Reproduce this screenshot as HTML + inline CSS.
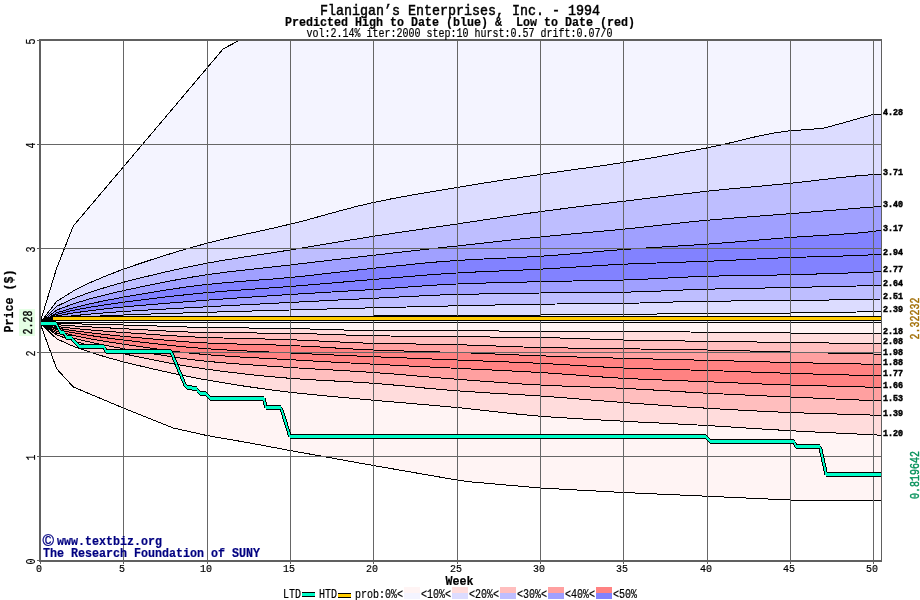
<!DOCTYPE html>
<html><head><meta charset="utf-8"><title>Flanigan's Enterprises, Inc. - 1994</title>
<style>html,body{margin:0;padding:0;background:#fff;}svg{display:block;}</style></head>
<body>
<svg width="920" height="600" viewBox="0 0 920 600">
<rect width="920" height="600" fill="#fff"/>
<defs><clipPath id="cp"><rect x="40" y="40" width="842" height="521"/></clipPath></defs>
<g clip-path="url(#cp)" shape-rendering="crispEdges">
<polygon points="40.0,322.9 56.7,268.0 73.3,226.0 123.3,167.0 223.3,48.8 240.0,40.0 882.7,40.0 882.0,114.5 881.0,114.5 873.3,114.5 856.6,119.0 840.0,123.8 823.3,128.2 806.6,129.6 790.0,130.8 773.3,133.1 756.6,136.5 740.0,140.5 723.3,144.5 706.6,148.0 690.0,151.1 673.3,154.1 656.6,157.0 640.0,159.8 623.3,162.5 606.6,165.0 590.0,167.4 573.3,169.7 556.6,172.1 540.0,174.5 523.3,177.0 506.6,179.5 490.0,182.1 473.3,184.8 456.7,187.5 440.0,190.3 423.3,193.1 406.7,196.0 390.0,199.1 373.3,202.5 356.7,206.4 340.0,210.8 323.3,215.4 306.7,220.0 290.0,224.2 273.3,228.1 256.7,231.8 240.0,235.4 223.3,239.2 206.7,243.3 190.0,247.9 173.3,252.8 156.7,258.0 140.0,263.5 123.3,269.2 106.7,275.6 90.0,282.7 73.3,291.0 56.7,301.4 40.0,322.9" fill="#f4f4ff"/>
<polygon points="40.0,322.9 56.7,301.4 73.3,291.0 90.0,282.7 106.7,275.6 123.3,269.2 140.0,263.5 156.7,258.0 173.3,252.8 190.0,247.9 206.7,243.3 223.3,239.2 240.0,235.4 256.7,231.8 273.3,228.1 290.0,224.2 306.7,220.0 323.3,215.4 340.0,210.8 356.7,206.4 373.3,202.5 390.0,199.1 406.7,196.0 423.3,193.1 440.0,190.3 456.7,187.5 473.3,184.8 490.0,182.1 506.6,179.5 523.3,177.0 540.0,174.5 556.6,172.1 573.3,169.7 590.0,167.4 606.6,165.0 623.3,162.5 640.0,159.8 656.6,157.0 673.3,154.1 690.0,151.1 706.6,148.0 723.3,144.5 740.0,140.5 756.6,136.5 773.3,133.1 790.0,130.8 806.6,129.6 823.3,128.2 840.0,123.8 856.6,119.0 873.3,114.5 881.0,114.5 882.0,114.5 882.0,174.2 881.0,174.2 873.3,174.6 856.6,175.9 840.0,177.6 823.3,179.5 806.6,181.5 790.0,183.3 773.3,184.9 756.6,186.5 740.0,188.0 723.3,189.6 706.6,191.3 690.0,193.2 673.3,195.1 656.6,197.2 640.0,199.2 623.3,201.3 606.6,203.3 590.0,205.3 573.3,207.4 556.6,209.5 540.0,211.7 523.3,214.0 506.6,216.5 490.0,219.0 473.3,221.5 456.7,224.0 440.0,226.4 423.3,228.9 406.7,231.3 390.0,233.8 373.3,236.3 356.7,239.0 340.0,241.7 323.3,244.5 306.7,247.3 290.0,250.0 273.3,252.6 256.7,255.1 240.0,257.7 223.3,260.3 206.7,263.3 190.0,266.6 173.3,270.2 156.7,274.0 140.0,278.1 123.3,282.3 106.7,287.0 90.0,292.3 73.3,298.5 56.7,306.3 40.0,322.9" fill="#dcdcff"/>
<polygon points="40.0,322.9 56.7,306.3 73.3,298.5 90.0,292.3 106.7,287.0 123.3,282.3 140.0,278.1 156.7,274.0 173.3,270.2 190.0,266.6 206.7,263.3 223.3,260.3 240.0,257.7 256.7,255.1 273.3,252.6 290.0,250.0 306.7,247.3 323.3,244.5 340.0,241.7 356.7,239.0 373.3,236.3 390.0,233.8 406.7,231.3 423.3,228.9 440.0,226.4 456.7,224.0 473.3,221.5 490.0,219.0 506.6,216.5 523.3,214.0 540.0,211.7 556.6,209.5 573.3,207.4 590.0,205.3 606.6,203.3 623.3,201.3 640.0,199.2 656.6,197.2 673.3,195.1 690.0,193.2 706.6,191.3 723.3,189.6 740.0,188.0 756.6,186.5 773.3,184.9 790.0,183.3 806.6,181.5 823.3,179.5 840.0,177.6 856.6,175.9 873.3,174.6 881.0,174.2 882.0,174.2 882.0,206.4 881.0,206.4 873.3,207.0 856.6,208.3 840.0,209.7 823.3,211.0 806.6,212.4 790.0,213.7 773.3,215.0 756.6,216.3 740.0,217.5 723.3,218.9 706.6,220.3 690.0,221.9 673.3,223.7 656.6,225.6 640.0,227.5 623.3,229.2 606.6,230.8 590.0,232.3 573.3,233.8 556.6,235.4 540.0,237.0 523.3,238.7 506.6,240.5 490.0,242.3 473.3,244.2 456.7,246.0 440.0,247.8 423.3,249.7 406.7,251.5 390.0,253.4 373.3,255.3 356.7,257.2 340.0,259.1 323.3,261.1 306.7,263.0 290.0,265.0 273.3,266.9 256.7,268.7 240.0,270.5 223.3,272.5 206.7,274.8 190.0,277.4 173.3,280.4 156.7,283.6 140.0,287.1 123.3,290.6 106.7,294.5 90.0,298.8 73.3,303.8 56.7,310.1 40.0,322.9" fill="#bebeff"/>
<polygon points="40.0,322.9 56.7,310.1 73.3,303.8 90.0,298.8 106.7,294.5 123.3,290.6 140.0,287.1 156.7,283.6 173.3,280.4 190.0,277.4 206.7,274.8 223.3,272.5 240.0,270.5 256.7,268.7 273.3,266.9 290.0,265.0 306.7,263.0 323.3,261.1 340.0,259.1 356.7,257.2 373.3,255.3 390.0,253.4 406.7,251.5 423.3,249.7 440.0,247.8 456.7,246.0 473.3,244.2 490.0,242.3 506.6,240.5 523.3,238.7 540.0,237.0 556.6,235.4 573.3,233.8 590.0,232.3 606.6,230.8 623.3,229.2 640.0,227.5 656.6,225.6 673.3,223.7 690.0,221.9 706.6,220.3 723.3,218.9 740.0,217.5 756.6,216.3 773.3,215.0 790.0,213.7 806.6,212.4 823.3,211.0 840.0,209.7 856.6,208.3 873.3,207.0 881.0,206.4 882.0,206.4 882.0,230.3 881.0,230.3 873.3,231.5 856.6,233.1 840.0,234.3 823.3,235.4 806.6,236.4 790.0,237.5 773.3,238.8 756.6,240.2 740.0,241.6 723.3,242.9 706.6,244.2 690.0,245.3 673.3,246.3 656.6,247.3 640.0,248.4 623.3,249.5 606.6,250.8 590.0,252.3 573.3,253.7 556.6,255.1 540.0,256.3 523.3,257.2 506.6,258.0 490.0,258.7 473.3,259.5 456.7,260.5 440.0,261.7 423.3,263.2 406.7,264.9 390.0,266.6 373.3,268.3 356.7,270.1 340.0,272.0 323.3,273.9 306.7,275.8 290.0,277.5 273.3,279.0 256.7,280.2 240.0,281.5 223.3,282.9 206.7,284.5 190.0,286.5 173.3,288.9 156.7,291.5 140.0,294.3 123.3,297.2 106.7,300.3 90.0,303.8 73.3,307.8 56.7,312.8 40.0,322.9" fill="#a0a0ff"/>
<polygon points="40.0,322.9 56.7,312.8 73.3,307.8 90.0,303.8 106.7,300.3 123.3,297.2 140.0,294.3 156.7,291.5 173.3,288.9 190.0,286.5 206.7,284.5 223.3,282.9 240.0,281.5 256.7,280.2 273.3,279.0 290.0,277.5 306.7,275.8 323.3,273.9 340.0,272.0 356.7,270.1 373.3,268.3 390.0,266.6 406.7,264.9 423.3,263.2 440.0,261.7 456.7,260.5 473.3,259.5 490.0,258.7 506.6,258.0 523.3,257.2 540.0,256.3 556.6,255.1 573.3,253.7 590.0,252.3 606.6,250.8 623.3,249.5 640.0,248.4 656.6,247.3 673.3,246.3 690.0,245.3 706.6,244.2 723.3,242.9 740.0,241.6 756.6,240.2 773.3,238.8 790.0,237.5 806.6,236.4 823.3,235.4 840.0,234.3 856.6,233.1 873.3,231.5 881.0,230.3 882.0,230.3 882.0,254.2 881.0,254.2 873.3,254.8 856.6,255.5 840.0,256.1 823.3,256.5 806.6,257.0 790.0,257.5 773.3,258.2 756.6,259.0 740.0,259.8 723.3,260.6 706.6,261.3 690.0,261.9 673.3,262.4 656.6,263.0 640.0,263.5 623.3,264.2 606.6,265.1 590.0,266.1 573.3,267.2 556.6,268.2 540.0,269.2 523.3,270.0 506.6,270.7 490.0,271.4 473.3,272.1 456.7,273.0 440.0,274.1 423.3,275.3 406.7,276.7 390.0,278.1 373.3,279.5 356.7,280.9 340.0,282.3 323.3,283.7 306.7,285.1 290.0,286.5 273.3,287.7 256.7,288.9 240.0,290.1 223.3,291.3 206.7,292.7 190.0,294.3 173.3,296.1 156.7,298.0 140.0,300.1 123.3,302.2 106.7,304.6 90.0,307.2 73.3,310.3 56.7,314.3 40.0,322.9" fill="#8282ff"/>
<polygon points="40.0,322.9 56.7,314.3 73.3,310.3 90.0,307.2 106.7,304.6 123.3,302.2 140.0,300.1 156.7,298.0 173.3,296.1 190.0,294.3 206.7,292.7 223.3,291.3 240.0,290.1 256.7,288.9 273.3,287.7 290.0,286.5 306.7,285.1 323.3,283.7 340.0,282.3 356.7,280.9 373.3,279.5 390.0,278.1 406.7,276.7 423.3,275.3 440.0,274.1 456.7,273.0 473.3,272.1 490.0,271.4 506.6,270.7 523.3,270.0 540.0,269.2 556.6,268.2 573.3,267.2 590.0,266.1 606.6,265.1 623.3,264.2 640.0,263.5 656.6,263.0 673.3,262.4 690.0,261.9 706.6,261.3 723.3,260.6 740.0,259.8 756.6,259.0 773.3,258.2 790.0,257.5 806.6,257.0 823.3,256.5 840.0,256.1 856.6,255.5 873.3,254.8 881.0,254.2 882.0,254.2 882.0,271.5 881.0,271.5 873.3,272.0 856.6,272.7 840.0,273.3 823.3,273.8 806.6,274.3 790.0,274.7 773.3,275.1 756.6,275.3 740.0,275.6 723.3,275.9 706.6,276.3 690.0,276.9 673.3,277.7 656.6,278.6 640.0,279.4 623.3,280.0 606.6,280.4 590.0,280.7 573.3,281.0 556.6,281.3 540.0,281.7 523.3,282.1 506.6,282.5 490.0,282.9 473.3,283.4 456.7,284.0 440.0,284.8 423.3,285.9 406.7,287.1 390.0,288.4 373.3,289.5 356.7,290.5 340.0,291.5 323.3,292.5 306.7,293.5 290.0,294.5 273.3,295.6 256.7,296.7 240.0,297.8 223.3,299.0 206.7,300.2 190.0,301.5 173.3,302.7 156.7,304.1 140.0,305.5 123.3,307.0 106.7,308.7 90.0,310.7 73.3,313.0 56.7,315.9 40.0,322.9" fill="#8282ff"/>
<polygon points="40.0,322.9 56.7,315.9 73.3,313.0 90.0,310.7 106.7,308.7 123.3,307.0 140.0,305.5 156.7,304.1 173.3,302.7 190.0,301.5 206.7,300.2 223.3,299.0 240.0,297.8 256.7,296.7 273.3,295.6 290.0,294.5 306.7,293.5 323.3,292.5 340.0,291.5 356.7,290.5 373.3,289.5 390.0,288.4 406.7,287.1 423.3,285.9 440.0,284.8 456.7,284.0 473.3,283.4 490.0,282.9 506.6,282.5 523.3,282.1 540.0,281.7 556.6,281.3 573.3,281.0 590.0,280.7 606.6,280.4 623.3,280.0 640.0,279.4 656.6,278.6 673.3,277.7 690.0,276.9 706.6,276.3 723.3,275.9 740.0,275.6 756.6,275.3 773.3,275.1 790.0,274.7 806.6,274.3 823.3,273.8 840.0,273.3 856.6,272.7 873.3,272.0 881.0,271.5 882.0,271.5 882.0,285.2 881.0,285.2 873.3,285.5 856.6,286.0 840.0,286.4 823.3,286.8 806.6,287.1 790.0,287.5 773.3,287.8 756.6,288.2 740.0,288.5 723.3,288.8 706.6,289.2 690.0,289.7 673.3,290.4 656.6,291.2 640.0,291.8 623.3,292.2 606.6,292.4 590.0,292.6 573.3,292.7 556.6,292.8 540.0,293.0 523.3,293.2 506.6,293.5 490.0,293.8 473.3,294.1 456.7,294.5 440.0,295.0 423.3,295.8 406.7,296.6 390.0,297.5 373.3,298.3 356.7,299.1 340.0,299.9 323.3,300.8 306.7,301.6 290.0,302.5 273.3,303.3 256.7,304.2 240.0,305.0 223.3,305.9 206.7,306.8 190.0,307.7 173.3,308.6 156.7,309.5 140.0,310.5 123.3,311.5 106.7,312.7 90.0,314.1 73.3,315.7 56.7,317.8 40.0,322.9" fill="#a0a0ff"/>
<polygon points="40.0,322.9 56.7,317.8 73.3,315.7 90.0,314.1 106.7,312.7 123.3,311.5 140.0,310.5 156.7,309.5 173.3,308.6 190.0,307.7 206.7,306.8 223.3,305.9 240.0,305.0 256.7,304.2 273.3,303.3 290.0,302.5 306.7,301.6 323.3,300.8 340.0,299.9 356.7,299.1 373.3,298.3 390.0,297.5 406.7,296.6 423.3,295.8 440.0,295.0 456.7,294.5 473.3,294.1 490.0,293.8 506.6,293.5 523.3,293.2 540.0,293.0 556.6,292.8 573.3,292.7 590.0,292.6 606.6,292.4 623.3,292.2 640.0,291.8 656.6,291.2 673.3,290.4 690.0,289.7 706.6,289.2 723.3,288.8 740.0,288.5 756.6,288.2 773.3,287.8 790.0,287.5 806.6,287.1 823.3,286.8 840.0,286.4 856.6,286.0 873.3,285.5 881.0,285.2 882.0,285.2 882.0,299.0 881.0,299.0 873.3,299.2 856.6,299.5 840.0,299.8 823.3,300.1 806.6,300.3 790.0,300.5 773.3,300.7 756.6,300.8 740.0,300.9 723.3,301.1 706.6,301.3 690.0,301.6 673.3,302.0 656.6,302.5 640.0,303.0 623.3,303.3 606.6,303.5 590.0,303.7 573.3,303.8 556.6,304.0 540.0,304.2 523.3,304.5 506.6,304.8 490.0,305.1 473.3,305.4 456.7,305.8 440.0,306.2 423.3,306.6 406.7,307.0 390.0,307.4 373.3,307.8 356.7,308.2 340.0,308.7 323.3,309.1 306.7,309.6 290.0,310.0 273.3,310.4 256.7,310.9 240.0,311.3 223.3,311.8 206.7,312.3 190.0,312.8 173.3,313.3 156.7,313.8 140.0,314.4 123.3,315.0 106.7,315.7 90.0,316.5 73.3,317.5 56.7,318.9 40.0,322.9" fill="#bebeff"/>
<polygon points="40.0,322.9 56.7,318.9 73.3,317.5 90.0,316.5 106.7,315.7 123.3,315.0 140.0,314.4 156.7,313.8 173.3,313.3 190.0,312.8 206.7,312.3 223.3,311.8 240.0,311.3 256.7,310.9 273.3,310.4 290.0,310.0 306.7,309.6 323.3,309.1 340.0,308.7 356.7,308.2 373.3,307.8 390.0,307.4 406.7,307.0 423.3,306.6 440.0,306.2 456.7,305.8 473.3,305.4 490.0,305.1 506.6,304.8 523.3,304.5 540.0,304.2 556.6,304.0 573.3,303.8 590.0,303.7 606.6,303.5 623.3,303.3 640.0,303.0 656.6,302.5 673.3,302.0 690.0,301.6 706.6,301.3 723.3,301.1 740.0,300.9 756.6,300.8 773.3,300.7 790.0,300.5 806.6,300.3 823.3,300.1 840.0,299.8 856.6,299.5 873.3,299.2 881.0,299.0 882.0,299.0 882.0,311.4 881.0,311.4 873.3,311.6 856.6,312.0 840.0,312.3 823.3,312.6 806.6,312.8 790.0,313.0 773.3,313.1 756.6,313.2 740.0,313.3 723.3,313.4 706.6,313.5 690.0,313.6 673.3,313.8 656.6,314.0 640.0,314.1 623.3,314.3 606.6,314.5 590.0,314.6 573.3,314.8 556.6,314.9 540.0,315.0 523.3,315.1 506.6,315.1 490.0,315.2 473.3,315.2 456.7,315.3 440.0,315.4 423.3,315.6 406.7,315.7 390.0,315.9 373.3,316.0 356.7,316.1 340.0,316.2 323.3,316.3 306.7,316.4 290.0,316.5 273.3,316.6 256.7,316.7 240.0,316.8 223.3,316.9 206.7,317.0 190.0,317.2 173.3,317.3 156.7,317.5 140.0,317.8 123.3,318.0 106.7,318.3 90.0,318.6 73.3,319.1 56.7,319.7 40.0,322.9" fill="#dcdcff"/>
<polygon points="40.0,322.9 56.7,319.7 73.3,319.1 90.0,318.6 106.7,318.3 123.3,318.0 140.0,317.8 156.7,317.5 173.3,317.3 190.0,317.2 206.7,317.0 223.3,316.9 240.0,316.8 256.7,316.7 273.3,316.6 290.0,316.5 306.7,316.4 323.3,316.3 340.0,316.2 356.7,316.1 373.3,316.0 390.0,315.9 406.7,315.7 423.3,315.6 440.0,315.4 456.7,315.3 473.3,315.2 490.0,315.2 506.6,315.1 523.3,315.1 540.0,315.0 556.6,314.9 573.3,314.8 590.0,314.6 606.6,314.5 623.3,314.3 640.0,314.1 656.6,314.0 673.3,313.8 690.0,313.6 706.6,313.5 723.3,313.4 740.0,313.3 756.6,313.2 773.3,313.1 790.0,313.0 806.6,312.8 823.3,312.6 840.0,312.3 856.6,312.0 873.3,311.6 881.0,311.4 882.0,311.4 882.0,322.9 40.0,322.9" fill="#f4f4ff"/>
<polygon points="40.0,322.9 882.0,322.9 882.0,333.3 881.0,333.3 873.3,333.3 856.6,333.3 840.0,333.2 823.3,333.2 806.6,333.1 790.0,333.0 773.3,332.9 756.6,332.7 740.0,332.5 723.3,332.4 706.6,332.2 690.0,332.0 673.3,331.8 656.6,331.7 640.0,331.5 623.3,331.5 606.6,331.5 590.0,331.5 573.3,331.5 556.6,331.5 540.0,331.5 523.3,331.4 506.6,331.1 490.0,330.9 473.3,330.6 456.7,330.5 440.0,330.5 423.3,330.5 406.7,330.5 390.0,330.5 373.3,330.5 356.7,330.3 340.0,329.9 323.3,329.4 306.7,328.9 290.0,328.5 273.3,328.3 256.7,328.1 240.0,327.9 223.3,327.7 206.7,327.5 190.0,327.1 173.3,326.6 156.7,326.0 140.0,325.5 123.3,325.0 106.7,324.6 90.0,324.2 73.3,323.8 56.7,323.4 40.0,322.9" fill="#fff4f4"/>
<polygon points="40.0,322.9 56.7,323.4 73.3,323.8 90.0,324.2 106.7,324.6 123.3,325.0 140.0,325.5 156.7,326.0 173.3,326.6 190.0,327.1 206.7,327.5 223.3,327.7 240.0,327.9 256.7,328.1 273.3,328.3 290.0,328.5 306.7,328.9 323.3,329.4 340.0,329.9 356.7,330.3 373.3,330.5 390.0,330.5 406.7,330.5 423.3,330.5 440.0,330.5 456.7,330.5 473.3,330.6 490.0,330.9 506.6,331.1 523.3,331.4 540.0,331.5 556.6,331.5 573.3,331.5 590.0,331.5 606.6,331.5 623.3,331.5 640.0,331.5 656.6,331.7 673.3,331.8 690.0,332.0 706.6,332.2 723.3,332.4 740.0,332.5 756.6,332.7 773.3,332.9 790.0,333.0 806.6,333.1 823.3,333.2 840.0,333.2 856.6,333.3 873.3,333.3 881.0,333.3 882.0,333.3 882.0,343.7 881.0,343.7 873.3,343.6 856.6,343.4 840.0,343.2 823.3,342.9 806.6,342.7 790.0,342.5 773.3,342.3 756.6,342.0 740.0,341.8 723.3,341.5 706.6,341.3 690.0,341.1 673.3,340.8 656.6,340.6 640.0,340.3 623.3,340.0 606.6,339.6 590.0,339.0 573.3,338.4 556.6,337.9 540.0,337.5 523.3,337.3 506.6,337.1 490.0,337.0 473.3,336.9 456.7,336.7 440.0,336.5 423.3,336.4 406.7,336.2 390.0,336.0 373.3,335.8 356.7,335.4 340.0,334.8 323.3,334.2 306.7,333.7 290.0,333.3 273.3,333.1 256.7,333.0 240.0,332.9 223.3,332.7 206.7,332.5 190.0,332.1 173.3,331.4 156.7,330.5 140.0,329.6 123.3,328.7 106.7,327.8 90.0,326.9 73.3,325.9 56.7,324.7 40.0,322.9" fill="#ffdcdc"/>
<polygon points="40.0,322.9 56.7,324.7 73.3,325.9 90.0,326.9 106.7,327.8 123.3,328.7 140.0,329.6 156.7,330.5 173.3,331.4 190.0,332.1 206.7,332.5 223.3,332.7 240.0,332.9 256.7,333.0 273.3,333.1 290.0,333.3 306.7,333.7 323.3,334.2 340.0,334.8 356.7,335.4 373.3,335.8 390.0,336.0 406.7,336.2 423.3,336.4 440.0,336.5 456.7,336.7 473.3,336.9 490.0,337.0 506.6,337.1 523.3,337.3 540.0,337.5 556.6,337.9 573.3,338.4 590.0,339.0 606.6,339.6 623.3,340.0 640.0,340.3 656.6,340.6 673.3,340.8 690.0,341.1 706.6,341.3 723.3,341.5 740.0,341.8 756.6,342.0 773.3,342.3 790.0,342.5 806.6,342.7 823.3,342.9 840.0,343.2 856.6,343.4 873.3,343.6 881.0,343.7 882.0,343.7 882.0,354.1 881.0,354.1 873.3,354.0 856.6,353.7 840.0,353.3 823.3,352.9 806.6,352.4 790.0,352.0 773.3,351.6 756.6,351.2 740.0,350.7 723.3,350.3 706.6,350.0 690.0,349.7 673.3,349.5 656.6,349.3 640.0,349.0 623.3,348.8 606.6,348.6 590.0,348.3 573.3,348.1 556.6,347.8 540.0,347.5 523.3,347.0 506.6,346.4 490.0,345.8 473.3,345.2 456.7,344.7 440.0,344.4 423.3,344.1 406.7,343.9 390.0,343.6 373.3,343.3 356.7,342.8 340.0,342.0 323.3,341.2 306.7,340.4 290.0,339.7 273.3,339.2 256.7,338.8 240.0,338.5 223.3,338.0 206.7,337.5 190.0,336.8 173.3,335.8 156.7,334.8 140.0,333.6 123.3,332.5 106.7,331.3 90.0,329.9 73.3,328.4 56.7,326.5 40.0,322.9" fill="#ffbebe"/>
<polygon points="40.0,322.9 56.7,326.5 73.3,328.4 90.0,329.9 106.7,331.3 123.3,332.5 140.0,333.6 156.7,334.8 173.3,335.8 190.0,336.8 206.7,337.5 223.3,338.0 240.0,338.5 256.7,338.8 273.3,339.2 290.0,339.7 306.7,340.4 323.3,341.2 340.0,342.0 356.7,342.8 373.3,343.3 390.0,343.6 406.7,343.9 423.3,344.1 440.0,344.4 456.7,344.7 473.3,345.2 490.0,345.8 506.6,346.4 523.3,347.0 540.0,347.5 556.6,347.8 573.3,348.1 590.0,348.3 606.6,348.6 623.3,348.8 640.0,349.0 656.6,349.3 673.3,349.5 690.0,349.7 706.6,350.0 723.3,350.3 740.0,350.7 756.6,351.2 773.3,351.6 790.0,352.0 806.6,352.4 823.3,352.9 840.0,353.3 856.6,353.7 873.3,354.0 881.0,354.1 882.0,354.1 882.0,364.5 881.0,364.5 873.3,364.3 856.6,363.9 840.0,363.6 823.3,363.2 806.6,362.9 790.0,362.5 773.3,362.1 756.6,361.6 740.0,361.2 723.3,360.7 706.6,360.3 690.0,359.9 673.3,359.5 656.6,359.1 640.0,358.7 623.3,358.3 606.6,357.8 590.0,357.4 573.3,356.9 556.6,356.4 540.0,355.8 523.3,355.2 506.6,354.5 490.0,353.8 473.3,353.1 456.7,352.5 440.0,352.0 423.3,351.5 406.7,351.1 390.0,350.6 373.3,350.0 356.7,349.2 340.0,348.3 323.3,347.2 306.7,346.3 290.0,345.5 273.3,344.9 256.7,344.5 240.0,344.1 223.3,343.6 206.7,343.0 190.0,342.1 173.3,340.8 156.7,339.4 140.0,337.8 123.3,336.3 106.7,334.7 90.0,332.8 73.3,330.7 56.7,328.1 40.0,322.9" fill="#ffa0a0"/>
<polygon points="40.0,322.9 56.7,328.1 73.3,330.7 90.0,332.8 106.7,334.7 123.3,336.3 140.0,337.8 156.7,339.4 173.3,340.8 190.0,342.1 206.7,343.0 223.3,343.6 240.0,344.1 256.7,344.5 273.3,344.9 290.0,345.5 306.7,346.3 323.3,347.2 340.0,348.3 356.7,349.2 373.3,350.0 390.0,350.6 406.7,351.1 423.3,351.5 440.0,352.0 456.7,352.5 473.3,353.1 490.0,353.8 506.6,354.5 523.3,355.2 540.0,355.8 556.6,356.4 573.3,356.9 590.0,357.4 606.6,357.8 623.3,358.3 640.0,358.7 656.6,359.1 673.3,359.5 690.0,359.9 706.6,360.3 723.3,360.7 740.0,361.2 756.6,361.6 773.3,362.1 790.0,362.5 806.6,362.9 823.3,363.2 840.0,363.6 856.6,363.9 873.3,364.3 881.0,364.5 882.0,364.5 882.0,375.9 881.0,375.9 873.3,375.7 856.6,375.2 840.0,374.8 823.3,374.3 806.6,373.8 790.0,373.3 773.3,372.8 756.6,372.2 740.0,371.6 723.3,371.0 706.6,370.5 690.0,370.0 673.3,369.6 656.6,369.1 640.0,368.6 623.3,368.0 606.6,367.2 590.0,366.2 573.3,365.2 556.6,364.2 540.0,363.3 523.3,362.6 506.6,361.9 490.0,361.3 473.3,360.6 456.7,360.0 440.0,359.3 423.3,358.7 406.7,358.0 390.0,357.4 373.3,356.7 356.7,356.0 340.0,355.3 323.3,354.5 306.7,353.8 290.0,353.0 273.3,352.2 256.7,351.5 240.0,350.7 223.3,349.8 206.7,348.7 190.0,347.4 173.3,345.7 156.7,343.9 140.0,342.0 123.3,340.0 106.7,337.9 90.0,335.5 73.3,332.8 56.7,329.5 40.0,322.9" fill="#ff8282"/>
<polygon points="40.0,322.9 56.7,329.5 73.3,332.8 90.0,335.5 106.7,337.9 123.3,340.0 140.0,342.0 156.7,343.9 173.3,345.7 190.0,347.4 206.7,348.7 223.3,349.8 240.0,350.7 256.7,351.5 273.3,352.2 290.0,353.0 306.7,353.8 323.3,354.5 340.0,355.3 356.7,356.0 373.3,356.7 390.0,357.4 406.7,358.0 423.3,358.7 440.0,359.3 456.7,360.0 473.3,360.6 490.0,361.3 506.6,361.9 523.3,362.6 540.0,363.3 556.6,364.2 573.3,365.2 590.0,366.2 606.6,367.2 623.3,368.0 640.0,368.6 656.6,369.1 673.3,369.6 690.0,370.0 706.6,370.5 723.3,371.0 740.0,371.6 756.6,372.2 773.3,372.8 790.0,373.3 806.6,373.8 823.3,374.3 840.0,374.8 856.6,375.2 873.3,375.7 881.0,375.9 882.0,375.9 882.0,387.4 881.0,387.4 873.3,387.2 856.6,386.8 840.0,386.4 823.3,385.9 806.6,385.5 790.0,385.0 773.3,384.4 756.6,383.8 740.0,383.1 723.3,382.4 706.6,381.7 690.0,381.1 673.3,380.4 656.6,379.8 640.0,379.1 623.3,378.3 606.6,377.3 590.0,376.1 573.3,374.8 556.6,373.6 540.0,372.5 523.3,371.6 506.6,370.7 490.0,369.9 473.3,369.1 456.7,368.3 440.0,367.5 423.3,366.7 406.7,365.9 390.0,365.0 373.3,364.2 356.7,363.3 340.0,362.5 323.3,361.6 306.7,360.6 290.0,359.7 273.3,358.8 256.7,357.9 240.0,357.0 223.3,355.9 206.7,354.7 190.0,353.1 173.3,351.2 156.7,349.0 140.0,346.6 123.3,344.2 106.7,341.6 90.0,338.8 73.3,335.4 56.7,331.3 40.0,322.9" fill="#ff8282"/>
<polygon points="40.0,322.9 56.7,331.3 73.3,335.4 90.0,338.8 106.7,341.6 123.3,344.2 140.0,346.6 156.7,349.0 173.3,351.2 190.0,353.1 206.7,354.7 223.3,355.9 240.0,357.0 256.7,357.9 273.3,358.8 290.0,359.7 306.7,360.6 323.3,361.6 340.0,362.5 356.7,363.3 373.3,364.2 390.0,365.0 406.7,365.9 423.3,366.7 440.0,367.5 456.7,368.3 473.3,369.1 490.0,369.9 506.6,370.7 523.3,371.6 540.0,372.5 556.6,373.6 573.3,374.8 590.0,376.1 606.6,377.3 623.3,378.3 640.0,379.1 656.6,379.8 673.3,380.4 690.0,381.1 706.6,381.7 723.3,382.4 740.0,383.1 756.6,383.8 773.3,384.4 790.0,385.0 806.6,385.5 823.3,385.9 840.0,386.4 856.6,386.8 873.3,387.2 881.0,387.4 882.0,387.4 882.0,400.9 881.0,400.9 873.3,400.6 856.6,399.9 840.0,399.2 823.3,398.5 806.6,397.7 790.0,397.0 773.3,396.3 756.6,395.5 740.0,394.8 723.3,394.0 706.6,393.2 690.0,392.3 673.3,391.2 656.6,390.2 640.0,389.2 623.3,388.3 606.6,387.6 590.0,387.0 573.3,386.4 556.6,385.8 540.0,385.0 523.3,384.1 506.6,382.9 490.0,381.7 473.3,380.5 456.7,379.2 440.0,377.9 423.3,376.5 406.7,375.1 390.0,373.7 373.3,372.5 356.7,371.4 340.0,370.4 323.3,369.5 306.7,368.5 290.0,367.5 273.3,366.4 256.7,365.3 240.0,364.1 223.3,362.8 206.7,361.3 190.0,359.4 173.3,357.0 156.7,354.4 140.0,351.6 123.3,348.7 106.7,345.6 90.0,342.1 73.3,338.2 56.7,333.1 40.0,322.9" fill="#ffa0a0"/>
<polygon points="40.0,322.9 56.7,333.1 73.3,338.2 90.0,342.1 106.7,345.6 123.3,348.7 140.0,351.6 156.7,354.4 173.3,357.0 190.0,359.4 206.7,361.3 223.3,362.8 240.0,364.1 256.7,365.3 273.3,366.4 290.0,367.5 306.7,368.5 323.3,369.5 340.0,370.4 356.7,371.4 373.3,372.5 390.0,373.7 406.7,375.1 423.3,376.5 440.0,377.9 456.7,379.2 473.3,380.5 490.0,381.7 506.6,382.9 523.3,384.1 540.0,385.0 556.6,385.8 573.3,386.4 590.0,387.0 606.6,387.6 623.3,388.3 640.0,389.2 656.6,390.2 673.3,391.2 690.0,392.3 706.6,393.2 723.3,394.0 740.0,394.8 756.6,395.5 773.3,396.3 790.0,397.0 806.6,397.7 823.3,398.5 840.0,399.2 856.6,399.9 873.3,400.6 881.0,400.9 882.0,400.9 882.0,415.4 881.0,415.4 873.3,415.1 856.6,414.6 840.0,414.1 823.3,413.6 806.6,413.1 790.0,412.5 773.3,411.8 756.6,411.0 740.0,410.1 723.3,409.2 706.6,408.2 690.0,407.2 673.3,406.1 656.6,404.9 640.0,403.7 623.3,402.5 606.6,401.2 590.0,399.9 573.3,398.5 556.6,397.2 540.0,396.0 523.3,394.9 506.6,393.9 490.0,393.0 473.3,391.9 456.7,390.8 440.0,389.4 423.3,387.9 406.7,386.2 390.0,384.7 373.3,383.3 356.7,382.2 340.0,381.3 323.3,380.4 306.7,379.5 290.0,378.3 273.3,376.9 256.7,375.3 240.0,373.4 223.3,371.4 206.7,369.2 190.0,366.7 173.3,363.8 156.7,360.6 140.0,357.2 123.3,353.7 106.7,349.9 90.0,345.7 73.3,340.9 56.7,334.9 40.0,322.9" fill="#ffbebe"/>
<polygon points="40.0,322.9 56.7,334.9 73.3,340.9 90.0,345.7 106.7,349.9 123.3,353.7 140.0,357.2 156.7,360.6 173.3,363.8 190.0,366.7 206.7,369.2 223.3,371.4 240.0,373.4 256.7,375.3 273.3,376.9 290.0,378.3 306.7,379.5 323.3,380.4 340.0,381.3 356.7,382.2 373.3,383.3 390.0,384.7 406.7,386.2 423.3,387.9 440.0,389.4 456.7,390.8 473.3,391.9 490.0,393.0 506.6,393.9 523.3,394.9 540.0,396.0 556.6,397.2 573.3,398.5 590.0,399.9 606.6,401.2 623.3,402.5 640.0,403.7 656.6,404.9 673.3,406.1 690.0,407.2 706.6,408.2 723.3,409.2 740.0,410.1 756.6,411.0 773.3,411.8 790.0,412.5 806.6,413.1 823.3,413.6 840.0,414.1 856.6,414.6 873.3,415.1 881.0,415.4 882.0,415.4 882.0,435.2 881.0,435.2 873.3,434.8 856.6,434.0 840.0,433.2 823.3,432.4 806.6,431.6 790.0,430.7 773.3,429.7 756.6,428.7 740.0,427.6 723.3,426.5 706.6,425.5 690.0,424.6 673.3,423.8 656.6,422.9 640.0,422.1 623.3,421.2 606.6,420.3 590.0,419.4 573.3,418.4 556.6,417.4 540.0,416.2 523.3,414.7 506.6,413.0 490.0,411.1 473.3,409.2 456.7,407.5 440.0,406.0 423.3,404.5 406.7,403.1 390.0,401.7 373.3,400.2 356.7,398.7 340.0,397.2 323.3,395.7 306.7,394.0 290.0,392.2 273.3,390.2 256.7,387.9 240.0,385.5 223.3,382.8 206.7,380.0 190.0,376.9 173.3,373.5 156.7,369.8 140.0,365.9 123.3,361.8 106.7,357.3 90.0,352.2 73.3,346.3 56.7,338.9 40.0,322.9" fill="#ffdcdc"/>
<polygon points="40.0,322.9 56.7,338.9 73.3,346.3 90.0,352.2 106.7,357.3 123.3,361.8 140.0,365.9 156.7,369.8 173.3,373.5 190.0,376.9 206.7,380.0 223.3,382.8 240.0,385.5 256.7,387.9 273.3,390.2 290.0,392.2 306.7,394.0 323.3,395.7 340.0,397.2 356.7,398.7 373.3,400.2 390.0,401.7 406.7,403.1 423.3,404.5 440.0,406.0 456.7,407.5 473.3,409.2 490.0,411.1 506.6,413.0 523.3,414.7 540.0,416.2 556.6,417.4 573.3,418.4 590.0,419.4 606.6,420.3 623.3,421.2 640.0,422.1 656.6,422.9 673.3,423.8 690.0,424.6 706.6,425.5 723.3,426.5 740.0,427.6 756.6,428.7 773.3,429.7 790.0,430.7 806.6,431.6 823.3,432.4 840.0,433.2 856.6,434.0 873.3,434.8 881.0,435.2 882.0,435.2 882.7,500.5 800.0,500.5 790.0,500.0 706.6,496.2 623.3,492.5 540.0,488.0 470.0,481.8 456.7,480.0 373.3,465.5 290.0,450.5 250.0,443.0 206.7,435.5 173.3,428.0 123.3,408.0 73.3,387.0 56.7,368.8 46.2,340.0 40.0,322.9" fill="#fff4f4"/>
<polyline points="40.0,322.9 56.7,268.0 73.3,226.0 123.3,167.0 223.3,48.8 240.0,40.0 882.7,40.0" fill="none" stroke="#000" stroke-width="1"/>
<polyline points="40.0,322.9 56.7,301.4 73.3,291.0 90.0,282.7 106.7,275.6 123.3,269.2 140.0,263.5 156.7,258.0 173.3,252.8 190.0,247.9 206.7,243.3 223.3,239.2 240.0,235.4 256.7,231.8 273.3,228.1 290.0,224.2 306.7,220.0 323.3,215.4 340.0,210.8 356.7,206.4 373.3,202.5 390.0,199.1 406.7,196.0 423.3,193.1 440.0,190.3 456.7,187.5 473.3,184.8 490.0,182.1 506.6,179.5 523.3,177.0 540.0,174.5 556.6,172.1 573.3,169.7 590.0,167.4 606.6,165.0 623.3,162.5 640.0,159.8 656.6,157.0 673.3,154.1 690.0,151.1 706.6,148.0 723.3,144.5 740.0,140.5 756.6,136.5 773.3,133.1 790.0,130.8 806.6,129.6 823.3,128.2 840.0,123.8 856.6,119.0 873.3,114.5 881.0,114.5 882.0,114.5" fill="none" stroke="#000" stroke-width="1"/>
<polyline points="40.0,322.9 56.7,306.3 73.3,298.5 90.0,292.3 106.7,287.0 123.3,282.3 140.0,278.1 156.7,274.0 173.3,270.2 190.0,266.6 206.7,263.3 223.3,260.3 240.0,257.7 256.7,255.1 273.3,252.6 290.0,250.0 306.7,247.3 323.3,244.5 340.0,241.7 356.7,239.0 373.3,236.3 390.0,233.8 406.7,231.3 423.3,228.9 440.0,226.4 456.7,224.0 473.3,221.5 490.0,219.0 506.6,216.5 523.3,214.0 540.0,211.7 556.6,209.5 573.3,207.4 590.0,205.3 606.6,203.3 623.3,201.3 640.0,199.2 656.6,197.2 673.3,195.1 690.0,193.2 706.6,191.3 723.3,189.6 740.0,188.0 756.6,186.5 773.3,184.9 790.0,183.3 806.6,181.5 823.3,179.5 840.0,177.6 856.6,175.9 873.3,174.6 881.0,174.2 882.0,174.2" fill="none" stroke="#000" stroke-width="1"/>
<polyline points="40.0,322.9 56.7,310.1 73.3,303.8 90.0,298.8 106.7,294.5 123.3,290.6 140.0,287.1 156.7,283.6 173.3,280.4 190.0,277.4 206.7,274.8 223.3,272.5 240.0,270.5 256.7,268.7 273.3,266.9 290.0,265.0 306.7,263.0 323.3,261.1 340.0,259.1 356.7,257.2 373.3,255.3 390.0,253.4 406.7,251.5 423.3,249.7 440.0,247.8 456.7,246.0 473.3,244.2 490.0,242.3 506.6,240.5 523.3,238.7 540.0,237.0 556.6,235.4 573.3,233.8 590.0,232.3 606.6,230.8 623.3,229.2 640.0,227.5 656.6,225.6 673.3,223.7 690.0,221.9 706.6,220.3 723.3,218.9 740.0,217.5 756.6,216.3 773.3,215.0 790.0,213.7 806.6,212.4 823.3,211.0 840.0,209.7 856.6,208.3 873.3,207.0 881.0,206.4 882.0,206.4" fill="none" stroke="#000" stroke-width="1"/>
<polyline points="40.0,322.9 56.7,312.8 73.3,307.8 90.0,303.8 106.7,300.3 123.3,297.2 140.0,294.3 156.7,291.5 173.3,288.9 190.0,286.5 206.7,284.5 223.3,282.9 240.0,281.5 256.7,280.2 273.3,279.0 290.0,277.5 306.7,275.8 323.3,273.9 340.0,272.0 356.7,270.1 373.3,268.3 390.0,266.6 406.7,264.9 423.3,263.2 440.0,261.7 456.7,260.5 473.3,259.5 490.0,258.7 506.6,258.0 523.3,257.2 540.0,256.3 556.6,255.1 573.3,253.7 590.0,252.3 606.6,250.8 623.3,249.5 640.0,248.4 656.6,247.3 673.3,246.3 690.0,245.3 706.6,244.2 723.3,242.9 740.0,241.6 756.6,240.2 773.3,238.8 790.0,237.5 806.6,236.4 823.3,235.4 840.0,234.3 856.6,233.1 873.3,231.5 881.0,230.3 882.0,230.3" fill="none" stroke="#000" stroke-width="1"/>
<polyline points="40.0,322.9 56.7,314.3 73.3,310.3 90.0,307.2 106.7,304.6 123.3,302.2 140.0,300.1 156.7,298.0 173.3,296.1 190.0,294.3 206.7,292.7 223.3,291.3 240.0,290.1 256.7,288.9 273.3,287.7 290.0,286.5 306.7,285.1 323.3,283.7 340.0,282.3 356.7,280.9 373.3,279.5 390.0,278.1 406.7,276.7 423.3,275.3 440.0,274.1 456.7,273.0 473.3,272.1 490.0,271.4 506.6,270.7 523.3,270.0 540.0,269.2 556.6,268.2 573.3,267.2 590.0,266.1 606.6,265.1 623.3,264.2 640.0,263.5 656.6,263.0 673.3,262.4 690.0,261.9 706.6,261.3 723.3,260.6 740.0,259.8 756.6,259.0 773.3,258.2 790.0,257.5 806.6,257.0 823.3,256.5 840.0,256.1 856.6,255.5 873.3,254.8 881.0,254.2 882.0,254.2" fill="none" stroke="#000" stroke-width="1"/>
<polyline points="40.0,322.9 56.7,315.9 73.3,313.0 90.0,310.7 106.7,308.7 123.3,307.0 140.0,305.5 156.7,304.1 173.3,302.7 190.0,301.5 206.7,300.2 223.3,299.0 240.0,297.8 256.7,296.7 273.3,295.6 290.0,294.5 306.7,293.5 323.3,292.5 340.0,291.5 356.7,290.5 373.3,289.5 390.0,288.4 406.7,287.1 423.3,285.9 440.0,284.8 456.7,284.0 473.3,283.4 490.0,282.9 506.6,282.5 523.3,282.1 540.0,281.7 556.6,281.3 573.3,281.0 590.0,280.7 606.6,280.4 623.3,280.0 640.0,279.4 656.6,278.6 673.3,277.7 690.0,276.9 706.6,276.3 723.3,275.9 740.0,275.6 756.6,275.3 773.3,275.1 790.0,274.7 806.6,274.3 823.3,273.8 840.0,273.3 856.6,272.7 873.3,272.0 881.0,271.5 882.0,271.5" fill="none" stroke="#000" stroke-width="1"/>
<polyline points="40.0,322.9 56.7,317.8 73.3,315.7 90.0,314.1 106.7,312.7 123.3,311.5 140.0,310.5 156.7,309.5 173.3,308.6 190.0,307.7 206.7,306.8 223.3,305.9 240.0,305.0 256.7,304.2 273.3,303.3 290.0,302.5 306.7,301.6 323.3,300.8 340.0,299.9 356.7,299.1 373.3,298.3 390.0,297.5 406.7,296.6 423.3,295.8 440.0,295.0 456.7,294.5 473.3,294.1 490.0,293.8 506.6,293.5 523.3,293.2 540.0,293.0 556.6,292.8 573.3,292.7 590.0,292.6 606.6,292.4 623.3,292.2 640.0,291.8 656.6,291.2 673.3,290.4 690.0,289.7 706.6,289.2 723.3,288.8 740.0,288.5 756.6,288.2 773.3,287.8 790.0,287.5 806.6,287.1 823.3,286.8 840.0,286.4 856.6,286.0 873.3,285.5 881.0,285.2 882.0,285.2" fill="none" stroke="#000" stroke-width="1"/>
<polyline points="40.0,322.9 56.7,318.9 73.3,317.5 90.0,316.5 106.7,315.7 123.3,315.0 140.0,314.4 156.7,313.8 173.3,313.3 190.0,312.8 206.7,312.3 223.3,311.8 240.0,311.3 256.7,310.9 273.3,310.4 290.0,310.0 306.7,309.6 323.3,309.1 340.0,308.7 356.7,308.2 373.3,307.8 390.0,307.4 406.7,307.0 423.3,306.6 440.0,306.2 456.7,305.8 473.3,305.4 490.0,305.1 506.6,304.8 523.3,304.5 540.0,304.2 556.6,304.0 573.3,303.8 590.0,303.7 606.6,303.5 623.3,303.3 640.0,303.0 656.6,302.5 673.3,302.0 690.0,301.6 706.6,301.3 723.3,301.1 740.0,300.9 756.6,300.8 773.3,300.7 790.0,300.5 806.6,300.3 823.3,300.1 840.0,299.8 856.6,299.5 873.3,299.2 881.0,299.0 882.0,299.0" fill="none" stroke="#000" stroke-width="1"/>
<polyline points="40.0,322.9 56.7,319.7 73.3,319.1 90.0,318.6 106.7,318.3 123.3,318.0 140.0,317.8 156.7,317.5 173.3,317.3 190.0,317.2 206.7,317.0 223.3,316.9 240.0,316.8 256.7,316.7 273.3,316.6 290.0,316.5 306.7,316.4 323.3,316.3 340.0,316.2 356.7,316.1 373.3,316.0 390.0,315.9 406.7,315.7 423.3,315.6 440.0,315.4 456.7,315.3 473.3,315.2 490.0,315.2 506.6,315.1 523.3,315.1 540.0,315.0 556.6,314.9 573.3,314.8 590.0,314.6 606.6,314.5 623.3,314.3 640.0,314.1 656.6,314.0 673.3,313.8 690.0,313.6 706.6,313.5 723.3,313.4 740.0,313.3 756.6,313.2 773.3,313.1 790.0,313.0 806.6,312.8 823.3,312.6 840.0,312.3 856.6,312.0 873.3,311.6 881.0,311.4 882.0,311.4" fill="none" stroke="#000" stroke-width="1"/>
<polyline points="40.0,322.9 882.0,322.9" fill="none" stroke="#000" stroke-width="1"/>
<polyline points="40.0,322.9 56.7,323.4 73.3,323.8 90.0,324.2 106.7,324.6 123.3,325.0 140.0,325.5 156.7,326.0 173.3,326.6 190.0,327.1 206.7,327.5 223.3,327.7 240.0,327.9 256.7,328.1 273.3,328.3 290.0,328.5 306.7,328.9 323.3,329.4 340.0,329.9 356.7,330.3 373.3,330.5 390.0,330.5 406.7,330.5 423.3,330.5 440.0,330.5 456.7,330.5 473.3,330.6 490.0,330.9 506.6,331.1 523.3,331.4 540.0,331.5 556.6,331.5 573.3,331.5 590.0,331.5 606.6,331.5 623.3,331.5 640.0,331.5 656.6,331.7 673.3,331.8 690.0,332.0 706.6,332.2 723.3,332.4 740.0,332.5 756.6,332.7 773.3,332.9 790.0,333.0 806.6,333.1 823.3,333.2 840.0,333.2 856.6,333.3 873.3,333.3 881.0,333.3 882.0,333.3" fill="none" stroke="#000" stroke-width="1"/>
<polyline points="40.0,322.9 56.7,324.7 73.3,325.9 90.0,326.9 106.7,327.8 123.3,328.7 140.0,329.6 156.7,330.5 173.3,331.4 190.0,332.1 206.7,332.5 223.3,332.7 240.0,332.9 256.7,333.0 273.3,333.1 290.0,333.3 306.7,333.7 323.3,334.2 340.0,334.8 356.7,335.4 373.3,335.8 390.0,336.0 406.7,336.2 423.3,336.4 440.0,336.5 456.7,336.7 473.3,336.9 490.0,337.0 506.6,337.1 523.3,337.3 540.0,337.5 556.6,337.9 573.3,338.4 590.0,339.0 606.6,339.6 623.3,340.0 640.0,340.3 656.6,340.6 673.3,340.8 690.0,341.1 706.6,341.3 723.3,341.5 740.0,341.8 756.6,342.0 773.3,342.3 790.0,342.5 806.6,342.7 823.3,342.9 840.0,343.2 856.6,343.4 873.3,343.6 881.0,343.7 882.0,343.7" fill="none" stroke="#000" stroke-width="1"/>
<polyline points="40.0,322.9 56.7,326.5 73.3,328.4 90.0,329.9 106.7,331.3 123.3,332.5 140.0,333.6 156.7,334.8 173.3,335.8 190.0,336.8 206.7,337.5 223.3,338.0 240.0,338.5 256.7,338.8 273.3,339.2 290.0,339.7 306.7,340.4 323.3,341.2 340.0,342.0 356.7,342.8 373.3,343.3 390.0,343.6 406.7,343.9 423.3,344.1 440.0,344.4 456.7,344.7 473.3,345.2 490.0,345.8 506.6,346.4 523.3,347.0 540.0,347.5 556.6,347.8 573.3,348.1 590.0,348.3 606.6,348.6 623.3,348.8 640.0,349.0 656.6,349.3 673.3,349.5 690.0,349.7 706.6,350.0 723.3,350.3 740.0,350.7 756.6,351.2 773.3,351.6 790.0,352.0 806.6,352.4 823.3,352.9 840.0,353.3 856.6,353.7 873.3,354.0 881.0,354.1 882.0,354.1" fill="none" stroke="#000" stroke-width="1"/>
<polyline points="40.0,322.9 56.7,328.1 73.3,330.7 90.0,332.8 106.7,334.7 123.3,336.3 140.0,337.8 156.7,339.4 173.3,340.8 190.0,342.1 206.7,343.0 223.3,343.6 240.0,344.1 256.7,344.5 273.3,344.9 290.0,345.5 306.7,346.3 323.3,347.2 340.0,348.3 356.7,349.2 373.3,350.0 390.0,350.6 406.7,351.1 423.3,351.5 440.0,352.0 456.7,352.5 473.3,353.1 490.0,353.8 506.6,354.5 523.3,355.2 540.0,355.8 556.6,356.4 573.3,356.9 590.0,357.4 606.6,357.8 623.3,358.3 640.0,358.7 656.6,359.1 673.3,359.5 690.0,359.9 706.6,360.3 723.3,360.7 740.0,361.2 756.6,361.6 773.3,362.1 790.0,362.5 806.6,362.9 823.3,363.2 840.0,363.6 856.6,363.9 873.3,364.3 881.0,364.5 882.0,364.5" fill="none" stroke="#000" stroke-width="1"/>
<polyline points="40.0,322.9 56.7,329.5 73.3,332.8 90.0,335.5 106.7,337.9 123.3,340.0 140.0,342.0 156.7,343.9 173.3,345.7 190.0,347.4 206.7,348.7 223.3,349.8 240.0,350.7 256.7,351.5 273.3,352.2 290.0,353.0 306.7,353.8 323.3,354.5 340.0,355.3 356.7,356.0 373.3,356.7 390.0,357.4 406.7,358.0 423.3,358.7 440.0,359.3 456.7,360.0 473.3,360.6 490.0,361.3 506.6,361.9 523.3,362.6 540.0,363.3 556.6,364.2 573.3,365.2 590.0,366.2 606.6,367.2 623.3,368.0 640.0,368.6 656.6,369.1 673.3,369.6 690.0,370.0 706.6,370.5 723.3,371.0 740.0,371.6 756.6,372.2 773.3,372.8 790.0,373.3 806.6,373.8 823.3,374.3 840.0,374.8 856.6,375.2 873.3,375.7 881.0,375.9 882.0,375.9" fill="none" stroke="#000" stroke-width="1"/>
<polyline points="40.0,322.9 56.7,331.3 73.3,335.4 90.0,338.8 106.7,341.6 123.3,344.2 140.0,346.6 156.7,349.0 173.3,351.2 190.0,353.1 206.7,354.7 223.3,355.9 240.0,357.0 256.7,357.9 273.3,358.8 290.0,359.7 306.7,360.6 323.3,361.6 340.0,362.5 356.7,363.3 373.3,364.2 390.0,365.0 406.7,365.9 423.3,366.7 440.0,367.5 456.7,368.3 473.3,369.1 490.0,369.9 506.6,370.7 523.3,371.6 540.0,372.5 556.6,373.6 573.3,374.8 590.0,376.1 606.6,377.3 623.3,378.3 640.0,379.1 656.6,379.8 673.3,380.4 690.0,381.1 706.6,381.7 723.3,382.4 740.0,383.1 756.6,383.8 773.3,384.4 790.0,385.0 806.6,385.5 823.3,385.9 840.0,386.4 856.6,386.8 873.3,387.2 881.0,387.4 882.0,387.4" fill="none" stroke="#000" stroke-width="1"/>
<polyline points="40.0,322.9 56.7,333.1 73.3,338.2 90.0,342.1 106.7,345.6 123.3,348.7 140.0,351.6 156.7,354.4 173.3,357.0 190.0,359.4 206.7,361.3 223.3,362.8 240.0,364.1 256.7,365.3 273.3,366.4 290.0,367.5 306.7,368.5 323.3,369.5 340.0,370.4 356.7,371.4 373.3,372.5 390.0,373.7 406.7,375.1 423.3,376.5 440.0,377.9 456.7,379.2 473.3,380.5 490.0,381.7 506.6,382.9 523.3,384.1 540.0,385.0 556.6,385.8 573.3,386.4 590.0,387.0 606.6,387.6 623.3,388.3 640.0,389.2 656.6,390.2 673.3,391.2 690.0,392.3 706.6,393.2 723.3,394.0 740.0,394.8 756.6,395.5 773.3,396.3 790.0,397.0 806.6,397.7 823.3,398.5 840.0,399.2 856.6,399.9 873.3,400.6 881.0,400.9 882.0,400.9" fill="none" stroke="#000" stroke-width="1"/>
<polyline points="40.0,322.9 56.7,334.9 73.3,340.9 90.0,345.7 106.7,349.9 123.3,353.7 140.0,357.2 156.7,360.6 173.3,363.8 190.0,366.7 206.7,369.2 223.3,371.4 240.0,373.4 256.7,375.3 273.3,376.9 290.0,378.3 306.7,379.5 323.3,380.4 340.0,381.3 356.7,382.2 373.3,383.3 390.0,384.7 406.7,386.2 423.3,387.9 440.0,389.4 456.7,390.8 473.3,391.9 490.0,393.0 506.6,393.9 523.3,394.9 540.0,396.0 556.6,397.2 573.3,398.5 590.0,399.9 606.6,401.2 623.3,402.5 640.0,403.7 656.6,404.9 673.3,406.1 690.0,407.2 706.6,408.2 723.3,409.2 740.0,410.1 756.6,411.0 773.3,411.8 790.0,412.5 806.6,413.1 823.3,413.6 840.0,414.1 856.6,414.6 873.3,415.1 881.0,415.4 882.0,415.4" fill="none" stroke="#000" stroke-width="1"/>
<polyline points="40.0,322.9 56.7,338.9 73.3,346.3 90.0,352.2 106.7,357.3 123.3,361.8 140.0,365.9 156.7,369.8 173.3,373.5 190.0,376.9 206.7,380.0 223.3,382.8 240.0,385.5 256.7,387.9 273.3,390.2 290.0,392.2 306.7,394.0 323.3,395.7 340.0,397.2 356.7,398.7 373.3,400.2 390.0,401.7 406.7,403.1 423.3,404.5 440.0,406.0 456.7,407.5 473.3,409.2 490.0,411.1 506.6,413.0 523.3,414.7 540.0,416.2 556.6,417.4 573.3,418.4 590.0,419.4 606.6,420.3 623.3,421.2 640.0,422.1 656.6,422.9 673.3,423.8 690.0,424.6 706.6,425.5 723.3,426.5 740.0,427.6 756.6,428.7 773.3,429.7 790.0,430.7 806.6,431.6 823.3,432.4 840.0,433.2 856.6,434.0 873.3,434.8 881.0,435.2 882.0,435.2" fill="none" stroke="#000" stroke-width="1"/>
<polyline points="40.0,322.9 46.2,340.0 56.7,368.8 73.3,387.0 123.3,408.0 173.3,428.0 206.7,435.5 250.0,443.0 290.0,450.5 373.3,465.5 456.7,480.0 470.0,481.8 540.0,488.0 623.3,492.5 706.6,496.2 790.0,500.0 800.0,500.5 882.7,500.5" fill="none" stroke="#000" stroke-width="1"/>
<rect x="123" y="40" width="1" height="520" fill="#666666"/>
<rect x="207" y="40" width="1" height="520" fill="#666666"/>
<rect x="290" y="40" width="1" height="520" fill="#666666"/>
<rect x="373" y="40" width="1" height="520" fill="#666666"/>
<rect x="457" y="40" width="1" height="520" fill="#666666"/>
<rect x="540" y="40" width="1" height="520" fill="#666666"/>
<rect x="623" y="40" width="1" height="520" fill="#666666"/>
<rect x="707" y="40" width="1" height="520" fill="#666666"/>
<rect x="790" y="40" width="1" height="520" fill="#666666"/>
<rect x="873" y="40" width="1" height="520" fill="#666666"/>
<rect x="40" y="456" width="842" height="1" fill="#666666"/>
<rect x="40" y="352" width="842" height="1" fill="#666666"/>
<rect x="40" y="248" width="842" height="1" fill="#666666"/>
<rect x="40" y="144" width="842" height="1" fill="#666666"/>
<rect x="52" y="316" width="830" height="5" fill="#000"/>
<rect x="53" y="317" width="829" height="3" fill="#ffcc00"/>
<polygon points="40.0,321.0 56.0,321.0 60.7,330.0 64.0,330.0 66.7,335.0 71.3,335.0 74.0,339.0 80.0,344.0 104.0,344.0 106.0,349.0 171.0,349.0 185.8,384.2 196.7,386.5 200.0,391.0 205.8,391.0 210.0,395.5 263.7,395.5 266.0,405.0 281.0,405.0 290.0,434.0 706.0,434.0 710.0,439.0 794.0,439.0 796.0,444.0 820.0,444.0 826.2,472.0 882.0,472.0 882.0,477.0 826.2,477.0 820.0,449.0 796.0,449.0 794.0,444.0 710.0,444.0 706.0,439.0 290.0,439.0 281.0,410.0 266.0,410.0 263.7,400.5 210.0,400.5 205.8,396.0 200.0,396.0 196.7,391.5 185.8,389.2 171.0,354.0 106.0,354.0 104.0,349.0 80.0,349.0 74.0,344.0 71.3,340.0 66.7,340.0 64.0,335.0 60.7,335.0 56.0,326.0 40.0,326.0" fill="#000"/>
<polygon points="38.1,323.5 54.1,323.5 58.8,332.5 62.1,332.5 64.8,337.5 69.4,337.5 72.1,341.5 78.1,346.5 102.1,346.5 104.1,351.5 169.1,351.5 183.9,386.7 194.8,389.0 198.1,393.5 203.9,393.5 208.1,398.0 261.8,398.0 264.1,407.5 279.1,407.5 288.1,436.5 704.1,436.5 708.1,441.5 792.1,441.5 794.1,446.5 818.1,446.5 824.3,474.5 880.1,474.5 883.9,474.5 828.1,474.5 821.9,446.5 797.9,446.5 795.9,441.5 711.9,441.5 707.9,436.5 291.9,436.5 282.9,407.5 267.9,407.5 265.6,398.0 211.9,398.0 207.7,393.5 201.9,393.5 198.6,389.0 187.7,386.7 172.9,351.5 107.9,351.5 105.9,346.5 81.9,346.5 75.9,341.5 73.2,337.5 68.6,337.5 65.9,332.5 62.6,332.5 57.9,323.5 41.9,323.5" fill="#000"/>
<polygon points="40.0,322.0 56.0,322.0 60.7,331.0 64.0,331.0 66.7,336.0 71.3,336.0 74.0,340.0 80.0,345.0 104.0,345.0 106.0,350.0 171.0,350.0 185.8,385.2 196.7,387.5 200.0,392.0 205.8,392.0 210.0,396.5 263.7,396.5 266.0,406.0 281.0,406.0 290.0,435.0 706.0,435.0 710.0,440.0 794.0,440.0 796.0,445.0 820.0,445.0 826.2,473.0 882.0,473.0 882.0,476.0 826.2,476.0 820.0,448.0 796.0,448.0 794.0,443.0 710.0,443.0 706.0,438.0 290.0,438.0 281.0,409.0 266.0,409.0 263.7,399.5 210.0,399.5 205.8,395.0 200.0,395.0 196.7,390.5 185.8,388.2 171.0,353.0 106.0,353.0 104.0,348.0 80.0,348.0 74.0,343.0 71.3,339.0 66.7,339.0 64.0,334.0 60.7,334.0 56.0,325.0 40.0,325.0" fill="#00fcc8"/>
<polygon points="39.1,323.5 55.1,323.5 59.8,332.5 63.1,332.5 65.8,337.5 70.4,337.5 73.1,341.5 79.1,346.5 103.1,346.5 105.1,351.5 170.1,351.5 184.9,386.7 195.8,389.0 199.1,393.5 204.9,393.5 209.1,398.0 262.8,398.0 265.1,407.5 280.1,407.5 289.1,436.5 705.1,436.5 709.1,441.5 793.1,441.5 795.1,446.5 819.1,446.5 825.3,474.5 881.1,474.5 882.9,474.5 827.1,474.5 820.9,446.5 796.9,446.5 794.9,441.5 710.9,441.5 706.9,436.5 290.9,436.5 281.9,407.5 266.9,407.5 264.6,398.0 210.9,398.0 206.7,393.5 200.9,393.5 197.6,389.0 186.7,386.7 171.9,351.5 106.9,351.5 104.9,346.5 80.9,346.5 74.9,341.5 72.2,337.5 67.6,337.5 64.9,332.5 61.6,332.5 56.9,323.5 40.9,323.5" fill="#00fcc8"/>
</g>
<g shape-rendering="crispEdges" fill="#606060">
<rect x="39" y="39" width="843" height="2"/>
<rect x="39" y="39" width="2" height="523"/>
<rect x="39" y="560" width="843" height="2"/>
<rect x="881" y="39" width="1" height="523"/>
<rect x="37" y="560" width="2" height="1"/>
<rect x="37" y="456" width="2" height="1"/>
<rect x="37" y="352" width="2" height="1"/>
<rect x="37" y="248" width="2" height="1"/>
<rect x="37" y="144" width="2" height="1"/>
<rect x="37" y="40" width="2" height="1"/>
<rect x="40" y="562" width="1" height="2"/>
<rect x="123" y="562" width="1" height="2"/>
<rect x="207" y="562" width="1" height="2"/>
<rect x="290" y="562" width="1" height="2"/>
<rect x="373" y="562" width="1" height="2"/>
<rect x="457" y="562" width="1" height="2"/>
<rect x="540" y="562" width="1" height="2"/>
<rect x="623" y="562" width="1" height="2"/>
<rect x="707" y="562" width="1" height="2"/>
<rect x="790" y="562" width="1" height="2"/>
<rect x="873" y="562" width="1" height="2"/>
</g>
<text x="320.0" y="15.0" font-family="'Liberation Mono', monospace" font-size="15" textLength="280" lengthAdjust="spacingAndGlyphs" fill="#000" stroke="#000" stroke-width="0.5" xml:space="preserve" >Flanigan’s Enterprises, Inc. - 1994</text>
<text x="285.0" y="25.5" font-family="'Liberation Mono', monospace" font-size="13" textLength="350" lengthAdjust="spacingAndGlyphs" fill="#000" font-weight="bold" stroke="#000" stroke-width="0.2" xml:space="preserve" >Predicted High to Date (blue) &amp;  Low to Date (red)</text>
<text x="306.5" y="36.5" font-family="'Liberation Mono', monospace" font-size="12" textLength="306" lengthAdjust="spacingAndGlyphs" fill="#000" stroke="#000" stroke-width="0.2" xml:space="preserve" >vol:2.14% iter:2000 step:10 hurst:0.57 drift:0.07/0</text>
<text x="36.0" y="572.0" font-family="'Liberation Mono', monospace" font-size="11.5" textLength="6" lengthAdjust="spacingAndGlyphs" fill="#000" stroke="#000" stroke-width="0.2" xml:space="preserve" >0</text>
<text x="119.0" y="572.0" font-family="'Liberation Mono', monospace" font-size="11.5" textLength="6" lengthAdjust="spacingAndGlyphs" fill="#000" stroke="#000" stroke-width="0.2" xml:space="preserve" >5</text>
<text x="200.0" y="572.0" font-family="'Liberation Mono', monospace" font-size="11.5" textLength="12" lengthAdjust="spacingAndGlyphs" fill="#000" stroke="#000" stroke-width="0.2" xml:space="preserve" >10</text>
<text x="283.0" y="572.0" font-family="'Liberation Mono', monospace" font-size="11.5" textLength="12" lengthAdjust="spacingAndGlyphs" fill="#000" stroke="#000" stroke-width="0.2" xml:space="preserve" >15</text>
<text x="366.0" y="572.0" font-family="'Liberation Mono', monospace" font-size="11.5" textLength="12" lengthAdjust="spacingAndGlyphs" fill="#000" stroke="#000" stroke-width="0.2" xml:space="preserve" >20</text>
<text x="450.0" y="572.0" font-family="'Liberation Mono', monospace" font-size="11.5" textLength="12" lengthAdjust="spacingAndGlyphs" fill="#000" stroke="#000" stroke-width="0.2" xml:space="preserve" >25</text>
<text x="533.0" y="572.0" font-family="'Liberation Mono', monospace" font-size="11.5" textLength="12" lengthAdjust="spacingAndGlyphs" fill="#000" stroke="#000" stroke-width="0.2" xml:space="preserve" >30</text>
<text x="616.0" y="572.0" font-family="'Liberation Mono', monospace" font-size="11.5" textLength="12" lengthAdjust="spacingAndGlyphs" fill="#000" stroke="#000" stroke-width="0.2" xml:space="preserve" >35</text>
<text x="700.0" y="572.0" font-family="'Liberation Mono', monospace" font-size="11.5" textLength="12" lengthAdjust="spacingAndGlyphs" fill="#000" stroke="#000" stroke-width="0.2" xml:space="preserve" >40</text>
<text x="783.0" y="572.0" font-family="'Liberation Mono', monospace" font-size="11.5" textLength="12" lengthAdjust="spacingAndGlyphs" fill="#000" stroke="#000" stroke-width="0.2" xml:space="preserve" >45</text>
<text x="866.0" y="572.0" font-family="'Liberation Mono', monospace" font-size="11.5" textLength="12" lengthAdjust="spacingAndGlyphs" fill="#000" stroke="#000" stroke-width="0.2" xml:space="preserve" >50</text>
<text x="445.5" y="585.0" font-family="'Liberation Mono', monospace" font-size="13.5" textLength="28" lengthAdjust="spacingAndGlyphs" fill="#000" font-weight="bold" stroke="#000" stroke-width="0.2" xml:space="preserve" >Week</text>
<g transform="translate(34.8 561.5) rotate(-90)">
<text x="-3.0" y="0.0" font-family="'Liberation Mono', monospace" font-size="12" textLength="6" lengthAdjust="spacingAndGlyphs" fill="#000" stroke="#000" stroke-width="0.2" xml:space="preserve" >0</text>
</g>
<g transform="translate(34.8 457.5) rotate(-90)">
<text x="-3.0" y="0.0" font-family="'Liberation Mono', monospace" font-size="12" textLength="6" lengthAdjust="spacingAndGlyphs" fill="#000" stroke="#000" stroke-width="0.2" xml:space="preserve" >1</text>
</g>
<g transform="translate(34.8 353.5) rotate(-90)">
<text x="-3.0" y="0.0" font-family="'Liberation Mono', monospace" font-size="12" textLength="6" lengthAdjust="spacingAndGlyphs" fill="#000" stroke="#000" stroke-width="0.2" xml:space="preserve" >2</text>
</g>
<g transform="translate(34.8 249.5) rotate(-90)">
<text x="-3.0" y="0.0" font-family="'Liberation Mono', monospace" font-size="12" textLength="6" lengthAdjust="spacingAndGlyphs" fill="#000" stroke="#000" stroke-width="0.2" xml:space="preserve" >3</text>
</g>
<g transform="translate(34.8 145.5) rotate(-90)">
<text x="-3.0" y="0.0" font-family="'Liberation Mono', monospace" font-size="12" textLength="6" lengthAdjust="spacingAndGlyphs" fill="#000" stroke="#000" stroke-width="0.2" xml:space="preserve" >4</text>
</g>
<g transform="translate(34.8 41.5) rotate(-90)">
<text x="-3.0" y="0.0" font-family="'Liberation Mono', monospace" font-size="12" textLength="6" lengthAdjust="spacingAndGlyphs" fill="#000" stroke="#000" stroke-width="0.2" xml:space="preserve" >5</text>
</g>
<g transform="translate(13 301) rotate(-90)">
<text x="-31.5" y="0.0" font-family="'Liberation Mono', monospace" font-size="13" textLength="63" lengthAdjust="spacingAndGlyphs" fill="#000" font-weight="bold" stroke="#000" stroke-width="0.2" xml:space="preserve" >Price ($)</text>
</g>
<rect x="19" y="309" width="16" height="27" fill="#e4ffe4" shape-rendering="crispEdges"/>
<g transform="translate(31.5 322.5) rotate(-90)">
<text x="-12.0" y="0.0" font-family="'Liberation Mono', monospace" font-size="13" textLength="24" lengthAdjust="spacingAndGlyphs" fill="#000" stroke="#000" stroke-width="0.4" xml:space="preserve" >2.28</text>
</g>
<text x="883.0" y="115.0" font-family="'Liberation Mono', monospace" font-size="9.2" textLength="20" lengthAdjust="spacingAndGlyphs" fill="#000" font-weight="bold" stroke="#000" stroke-width="0.5" xml:space="preserve" >4.28</text>
<text x="883.0" y="175.0" font-family="'Liberation Mono', monospace" font-size="9.2" textLength="20" lengthAdjust="spacingAndGlyphs" fill="#000" font-weight="bold" stroke="#000" stroke-width="0.5" xml:space="preserve" >3.71</text>
<text x="883.0" y="207.0" font-family="'Liberation Mono', monospace" font-size="9.2" textLength="20" lengthAdjust="spacingAndGlyphs" fill="#000" font-weight="bold" stroke="#000" stroke-width="0.5" xml:space="preserve" >3.40</text>
<text x="883.0" y="231.0" font-family="'Liberation Mono', monospace" font-size="9.2" textLength="20" lengthAdjust="spacingAndGlyphs" fill="#000" font-weight="bold" stroke="#000" stroke-width="0.5" xml:space="preserve" >3.17</text>
<text x="883.0" y="255.0" font-family="'Liberation Mono', monospace" font-size="9.2" textLength="20" lengthAdjust="spacingAndGlyphs" fill="#000" font-weight="bold" stroke="#000" stroke-width="0.5" xml:space="preserve" >2.94</text>
<text x="883.0" y="272.0" font-family="'Liberation Mono', monospace" font-size="9.2" textLength="20" lengthAdjust="spacingAndGlyphs" fill="#000" font-weight="bold" stroke="#000" stroke-width="0.5" xml:space="preserve" >2.77</text>
<text x="883.0" y="286.0" font-family="'Liberation Mono', monospace" font-size="9.2" textLength="20" lengthAdjust="spacingAndGlyphs" fill="#000" font-weight="bold" stroke="#000" stroke-width="0.5" xml:space="preserve" >2.64</text>
<text x="883.0" y="299.0" font-family="'Liberation Mono', monospace" font-size="9.2" textLength="20" lengthAdjust="spacingAndGlyphs" fill="#000" font-weight="bold" stroke="#000" stroke-width="0.5" xml:space="preserve" >2.51</text>
<text x="883.0" y="312.0" font-family="'Liberation Mono', monospace" font-size="9.2" textLength="20" lengthAdjust="spacingAndGlyphs" fill="#000" font-weight="bold" stroke="#000" stroke-width="0.5" xml:space="preserve" >2.39</text>
<text x="883.0" y="334.0" font-family="'Liberation Mono', monospace" font-size="9.2" textLength="20" lengthAdjust="spacingAndGlyphs" fill="#000" font-weight="bold" stroke="#000" stroke-width="0.5" xml:space="preserve" >2.18</text>
<text x="883.0" y="344.0" font-family="'Liberation Mono', monospace" font-size="9.2" textLength="20" lengthAdjust="spacingAndGlyphs" fill="#000" font-weight="bold" stroke="#000" stroke-width="0.5" xml:space="preserve" >2.08</text>
<text x="883.0" y="355.0" font-family="'Liberation Mono', monospace" font-size="9.2" textLength="20" lengthAdjust="spacingAndGlyphs" fill="#000" font-weight="bold" stroke="#000" stroke-width="0.5" xml:space="preserve" >1.98</text>
<text x="883.0" y="365.0" font-family="'Liberation Mono', monospace" font-size="9.2" textLength="20" lengthAdjust="spacingAndGlyphs" fill="#000" font-weight="bold" stroke="#000" stroke-width="0.5" xml:space="preserve" >1.88</text>
<text x="883.0" y="376.0" font-family="'Liberation Mono', monospace" font-size="9.2" textLength="20" lengthAdjust="spacingAndGlyphs" fill="#000" font-weight="bold" stroke="#000" stroke-width="0.5" xml:space="preserve" >1.77</text>
<text x="883.0" y="388.0" font-family="'Liberation Mono', monospace" font-size="9.2" textLength="20" lengthAdjust="spacingAndGlyphs" fill="#000" font-weight="bold" stroke="#000" stroke-width="0.5" xml:space="preserve" >1.66</text>
<text x="883.0" y="401.0" font-family="'Liberation Mono', monospace" font-size="9.2" textLength="20" lengthAdjust="spacingAndGlyphs" fill="#000" font-weight="bold" stroke="#000" stroke-width="0.5" xml:space="preserve" >1.53</text>
<text x="883.0" y="416.0" font-family="'Liberation Mono', monospace" font-size="9.2" textLength="20" lengthAdjust="spacingAndGlyphs" fill="#000" font-weight="bold" stroke="#000" stroke-width="0.5" xml:space="preserve" >1.39</text>
<text x="883.0" y="436.0" font-family="'Liberation Mono', monospace" font-size="9.2" textLength="20" lengthAdjust="spacingAndGlyphs" fill="#000" font-weight="bold" stroke="#000" stroke-width="0.5" xml:space="preserve" >1.20</text>
<g transform="translate(918.5 318.5) rotate(-90)">
<text x="-21.0" y="0.0" font-family="'Liberation Mono', monospace" font-size="12" textLength="42" lengthAdjust="spacingAndGlyphs" fill="#a06c00" stroke="#a06c00" stroke-width="0.4" xml:space="preserve" >2.32232</text>
</g>
<g transform="translate(918.5 475) rotate(-90)">
<text x="-24.0" y="0.0" font-family="'Liberation Mono', monospace" font-size="12" textLength="48" lengthAdjust="spacingAndGlyphs" fill="#009058" stroke="#009058" stroke-width="0.4" xml:space="preserve" >0.819642</text>
</g>
<text x="42.4" y="546.1" font-family="'Liberation Sans', sans-serif" font-size="15.6" fill="#000080" stroke="#000080" stroke-width="0.3">©</text>
<text x="57.0" y="544.5" font-family="'Liberation Mono', monospace" font-size="13" textLength="105" lengthAdjust="spacingAndGlyphs" fill="#000080" font-weight="bold" stroke="#000080" stroke-width="0.2" xml:space="preserve" >www.textbiz.org</text>
<text x="43.0" y="557.0" font-family="'Liberation Mono', monospace" font-size="13" textLength="217" lengthAdjust="spacingAndGlyphs" fill="#000080" font-weight="bold" stroke="#000080" stroke-width="0.2" xml:space="preserve" >The Research Foundation of SUNY</text>
<text x="283.0" y="598.0" font-family="'Liberation Mono', monospace" font-size="12" textLength="18" lengthAdjust="spacingAndGlyphs" fill="#000" stroke="#000" stroke-width="0.2" xml:space="preserve" >LTD</text>
<rect x="302" y="592" width="13" height="5" fill="#000" shape-rendering="crispEdges"/>
<rect x="302" y="593" width="13" height="3" fill="#00fcc8" shape-rendering="crispEdges"/>
<text x="319.0" y="598.0" font-family="'Liberation Mono', monospace" font-size="12" textLength="18" lengthAdjust="spacingAndGlyphs" fill="#000" stroke="#000" stroke-width="0.2" xml:space="preserve" >HTD</text>
<rect x="338" y="593" width="13" height="5" fill="#000" shape-rendering="crispEdges"/>
<rect x="338" y="594" width="13" height="3" fill="#ffcc00" shape-rendering="crispEdges"/>
<text x="355.0" y="598.0" font-family="'Liberation Mono', monospace" font-size="12" textLength="48" lengthAdjust="spacingAndGlyphs" fill="#000" stroke="#000" stroke-width="0.2" xml:space="preserve" >prob:0%&lt;</text>
<rect x="404" y="587" width="16" height="6" fill="#fff4f4" shape-rendering="crispEdges"/>
<rect x="404" y="593" width="16" height="6" fill="#f4f4ff" shape-rendering="crispEdges"/>
<text x="421.0" y="598.0" font-family="'Liberation Mono', monospace" font-size="12" textLength="30" lengthAdjust="spacingAndGlyphs" fill="#000" stroke="#000" stroke-width="0.2" xml:space="preserve" >&lt;10%&lt;</text>
<rect x="452" y="587" width="16" height="6" fill="#ffdcdc" shape-rendering="crispEdges"/>
<rect x="452" y="593" width="16" height="6" fill="#dcdcff" shape-rendering="crispEdges"/>
<text x="469.0" y="598.0" font-family="'Liberation Mono', monospace" font-size="12" textLength="30" lengthAdjust="spacingAndGlyphs" fill="#000" stroke="#000" stroke-width="0.2" xml:space="preserve" >&lt;20%&lt;</text>
<rect x="500" y="587" width="16" height="6" fill="#ffbebe" shape-rendering="crispEdges"/>
<rect x="500" y="593" width="16" height="6" fill="#bebeff" shape-rendering="crispEdges"/>
<text x="517.0" y="598.0" font-family="'Liberation Mono', monospace" font-size="12" textLength="30" lengthAdjust="spacingAndGlyphs" fill="#000" stroke="#000" stroke-width="0.2" xml:space="preserve" >&lt;30%&lt;</text>
<rect x="548" y="587" width="16" height="6" fill="#ffa0a0" shape-rendering="crispEdges"/>
<rect x="548" y="593" width="16" height="6" fill="#a0a0ff" shape-rendering="crispEdges"/>
<text x="565.0" y="598.0" font-family="'Liberation Mono', monospace" font-size="12" textLength="30" lengthAdjust="spacingAndGlyphs" fill="#000" stroke="#000" stroke-width="0.2" xml:space="preserve" >&lt;40%&lt;</text>
<rect x="596" y="587" width="16" height="6" fill="#ff8282" shape-rendering="crispEdges"/>
<rect x="596" y="593" width="16" height="6" fill="#8282ff" shape-rendering="crispEdges"/>
<text x="613.0" y="598.0" font-family="'Liberation Mono', monospace" font-size="12" textLength="24" lengthAdjust="spacingAndGlyphs" fill="#000" stroke="#000" stroke-width="0.2" xml:space="preserve" >&lt;50%</text>
</svg>
</body></html>
